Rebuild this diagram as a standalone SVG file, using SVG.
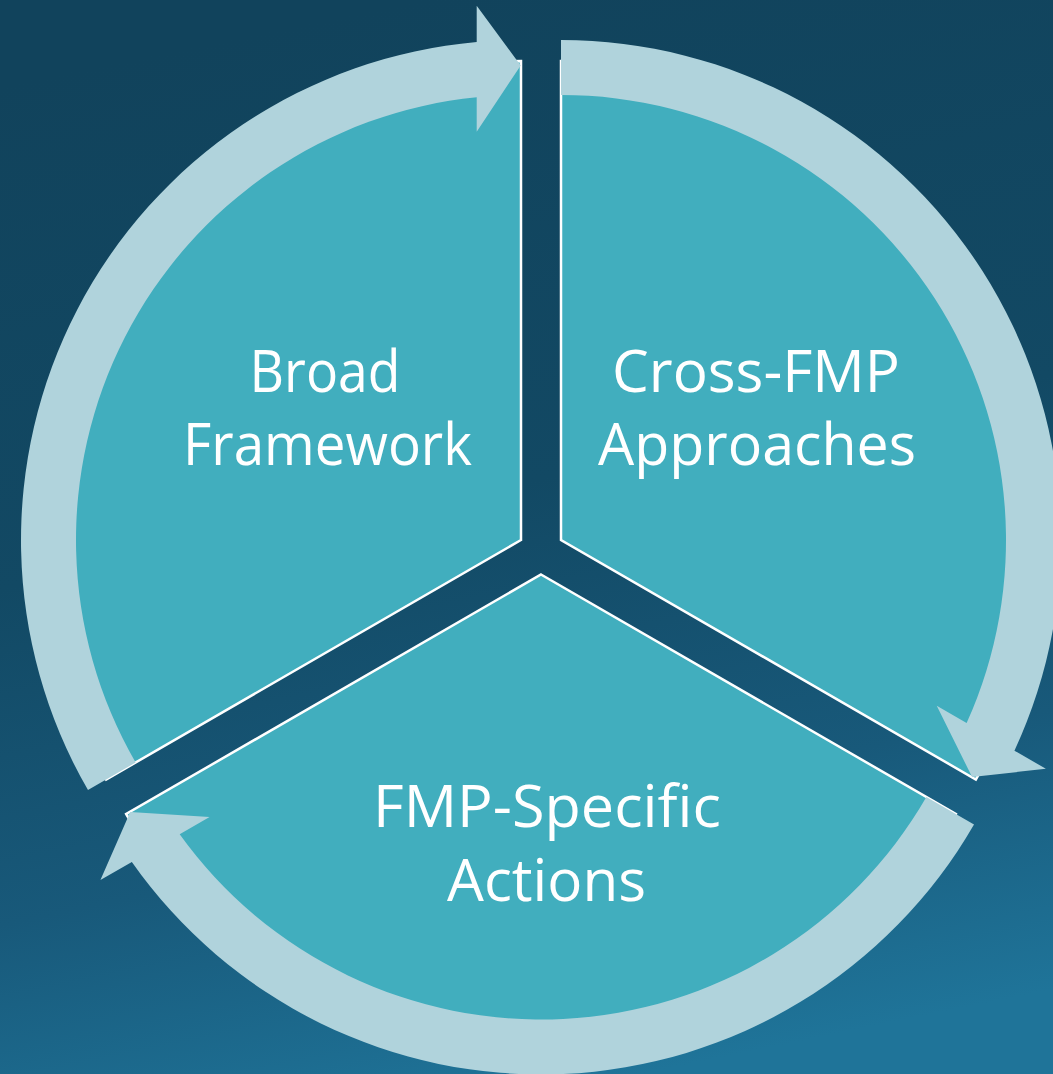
<svg xmlns="http://www.w3.org/2000/svg" width="1053" height="1074" viewBox="0 0 1053 1074">
  <defs>
    <linearGradient id="bg" gradientUnits="userSpaceOnUse" x1="420" y1="0" x2="640" y2="1074">
      <stop offset="0" stop-color="#11435C"/>
      <stop offset="0.45" stop-color="#124964"/>
      <stop offset="0.75" stop-color="#18597A"/>
      <stop offset="1" stop-color="#1F7499"/>
    </linearGradient>
    <path id="sector" d="M0,0 L-414.83,239.5 A479,479 0 0 1 0,-479 Z"/>
    <path id="arrow" d="M-433.01,250 A500,500 0 0 1 -44.3,-498.03 L-44.3,-534.3 L-0.3,-474.5 L-44.3,-408.3 L-44.3,-442.79 A445,445 0 0 0 -385.38,222.5 Z"/>
  </defs>
  <style>
    .sector { fill: #41AEBE; stroke: #FFFFFF; stroke-width: 2.5; stroke-linejoin: miter; }
    .arrow { fill: #B0D3DC; stroke: none; }
    .label { fill: #FFFFFF; font-family: "Open Sans", "Noto Sans", "Liberation Sans", sans-serif; font-size: 58px; text-anchor: middle; }
  </style>
  <rect x="0" y="0" width="1053" height="1074" fill="url(#bg)"/>
  <g id="node-broad-framework">
    <use href="#sector" class="sector" transform="translate(521,540)"/>
    <text class="label" x="325" y="391.5" textLength="151" lengthAdjust="spacingAndGlyphs">Broad</text>
    <text class="label" x="327.5" y="465" textLength="289" lengthAdjust="spacingAndGlyphs">Framework</text>
  </g>
  <g id="node-cross-fmp-approaches">
    <use href="#sector" class="sector" transform="translate(561,540) rotate(120)"/>
    <text class="label" x="756" y="391.5" textLength="288" lengthAdjust="spacingAndGlyphs">Cross-FMP</text>
    <text class="label" x="757" y="465" textLength="318" lengthAdjust="spacingAndGlyphs">Approaches</text>
  </g>
  <g id="node-fmp-specific-actions">
    <use href="#sector" class="sector" transform="translate(541,574.5) rotate(240)"/>
    <text class="label" x="547" y="827" textLength="348" lengthAdjust="spacingAndGlyphs">FMP-Specific</text>
    <text class="label" x="546.5" y="900.5" textLength="199" lengthAdjust="spacingAndGlyphs">Actions</text>
  </g>
  <g id="connectors">
    <use href="#arrow" class="arrow" transform="translate(521,540)"/>
    <use href="#arrow" class="arrow" transform="translate(561,540) rotate(120)"/>
    <use href="#arrow" class="arrow" transform="translate(541,574.5) rotate(240)"/>
  </g>
</svg>
